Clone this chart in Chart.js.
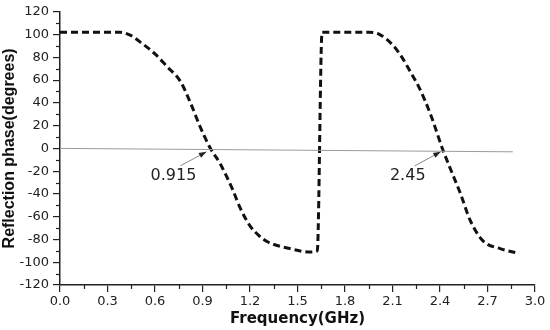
<!DOCTYPE html>
<html>
<head>
<meta charset="utf-8">
<script src="https://cdn.jsdelivr.net/npm/chart.js@4.4.1/dist/chart.umd.min.js"></script>
<style>
  html, body { margin: 0; padding: 0; background: #fff; }
  #wrap { width: 550px; height: 330px; }
</style>
</head>
<body>
<div id="wrap"><canvas id="phaseChart"></canvas></div>
<script>
// Reflection phase curve (dashed)
const freq = [0, 0.2, 0.38, 0.45, 0.52, 0.6, 0.675, 0.76, 0.83, 0.885, 0.95, 1.01, 1.05, 1.09, 1.14, 1.2, 1.26, 1.31, 1.45, 1.58, 1.625,
              1.655, 1.8, 1.95, 2.02, 2.1, 2.16, 2.21, 2.27, 2.34, 2.42, 2.46, 2.53, 2.59, 2.67, 2.78, 2.89];
const phase = [102, 102, 102, 99, 92, 83, 72, 59, 38, 19, 0, -13, -24, -36, -53, -68, -77, -82, -88, -91, -90,
               102, 102, 102, 100, 91, 80, 68, 53, 30, -2, -16, -40, -63, -81, -88, -92];

// reference (near zero) line
const refFreq = [0, 2.86];
const refPhase = [0, -3];

// annotated crossings
const markLabels = ["0.915", "2.45"];
const markFreq = [0.95, 2.43];

const ctx = document.getElementById("phaseChart").getContext("2d");

const minorTicks = {
    id: "minorTicks",
    afterDraw(chart) {
        const c = chart.ctx;
        const xs = chart.scales.x;
        const ys = chart.scales.y;
        c.save();
        c.strokeStyle = "#222";
        c.lineWidth = 1.2;
        for (let v = -110; v <= 110; v += 20) {
            const py = Math.round(ys.getPixelForValue(v)) + 0.5;
            c.beginPath();
            c.moveTo(xs.left - 4, py);
            c.lineTo(xs.left, py);
            c.stroke();
        }
        for (let v = 0.15; v < 3; v += 0.3) {
            const px = Math.round(xs.getPixelForValue(v)) + 0.5;
            c.beginPath();
            c.moveTo(px, ys.bottom);
            c.lineTo(px, ys.bottom + 4);
            c.stroke();
        }
        c.restore();
    }
};

const arrows = {
    id: "arrows",
    afterDatasetsDraw(chart) {
        const c = chart.ctx;
        const xs = chart.scales.x;
        const ys = chart.scales.y;
        c.save();
        markFreq.forEach((f, i) => {
            const tx = xs.getPixelForValue(f) - 4;
            const ty = ys.getPixelForValue(-3);
            const sx = tx - 26;
            const sy = ty + 14;
            c.strokeStyle = "#888";
            c.lineWidth = 1;
            c.beginPath();
            c.moveTo(sx, sy);
            c.lineTo(tx, ty);
            c.stroke();
            const a = Math.atan2(ty - sy, tx - sx);
            c.fillStyle = "#222";
            c.beginPath();
            c.moveTo(tx, ty);
            c.lineTo(tx - 8 * Math.cos(a - 0.35), ty - 8 * Math.sin(a - 0.35));
            c.lineTo(tx - 8 * Math.cos(a + 0.35), ty - 8 * Math.sin(a + 0.35));
            c.closePath();
            c.fill();
            c.fillStyle = "#222";
            c.font = "16px 'DejaVu Sans', sans-serif";
            c.textAlign = "center";
            c.textBaseline = "middle";
            c.fillText(markLabels[i], sx - 7, sy + 10);
        });
        c.restore();
    }
};

new Chart(ctx, {
    type: "line",
    data: {
        datasets: [{
            data: refFreq.map((f, i) => ({ x: f, y: refPhase[i] })),
            borderColor: "#9a9a9a",
            borderWidth: 1,
            pointRadius: 0,
            fill: false
        }, {
            data: freq.map((f, i) => ({ x: f, y: phase[i] })),
            borderColor: "#111",
            borderWidth: 3,
            borderDash: [7, 4],
            pointRadius: 0,
            cubicInterpolationMode: "monotone",
            fill: false
        }]
    },
    options: {
        responsive: true,
        maintainAspectRatio: false,
        animation: false,
        layout: { padding: { top: 10, right: 15, left: 0, bottom: 0 } },
        plugins: { legend: { display: false }, tooltip: { enabled: false } },
        scales: {
            x: {
                type: "linear",
                min: 0,
                max: 3,
                afterFit(scale) { scale.height = 45; },
                ticks: {
                    stepSize: 0.3,
                    padding: 2,
                    color: "#222",
                    font: { family: "'DejaVu Sans', sans-serif", size: 13 },
                    callback: v => Number(v).toFixed(1),
                    maxRotation: 0
                },
                grid: { drawOnChartArea: false, drawTicks: true, tickLength: 7, color: "#222", lineWidth: 1.2 },
                border: { display: true, color: "#222", width: 1.5 },
                title: {
                    display: true,
                    text: "Frequency(GHz)",
                    color: "#111",
                    padding: { top: 0, bottom: 2 },
                    font: { family: "'DejaVu Sans', sans-serif", size: 15, weight: "bold" }
                }
            },
            y: {
                min: -120,
                max: 120,
                afterFit(scale) { scale.width = 60; },
                ticks: {
                    stepSize: 20,
                    padding: 4,
                    color: "#222",
                    font: { family: "'DejaVu Sans', sans-serif", size: 13 }
                },
                grid: { drawOnChartArea: false, drawTicks: true, tickLength: 7, color: "#222", lineWidth: 1.2 },
                border: { display: true, color: "#222", width: 1.5 },
                title: {
                    display: true,
                    text: "Reflection phase(degrees)",
                    color: "#111",
                    padding: { top: 0, bottom: 0 },
                    font: { family: "'Liberation Sans', Arial, sans-serif", size: 16, weight: "bold" }
                }
            }
        }
    },
    plugins: [minorTicks, arrows]
});
</script>
</body>
</html>
